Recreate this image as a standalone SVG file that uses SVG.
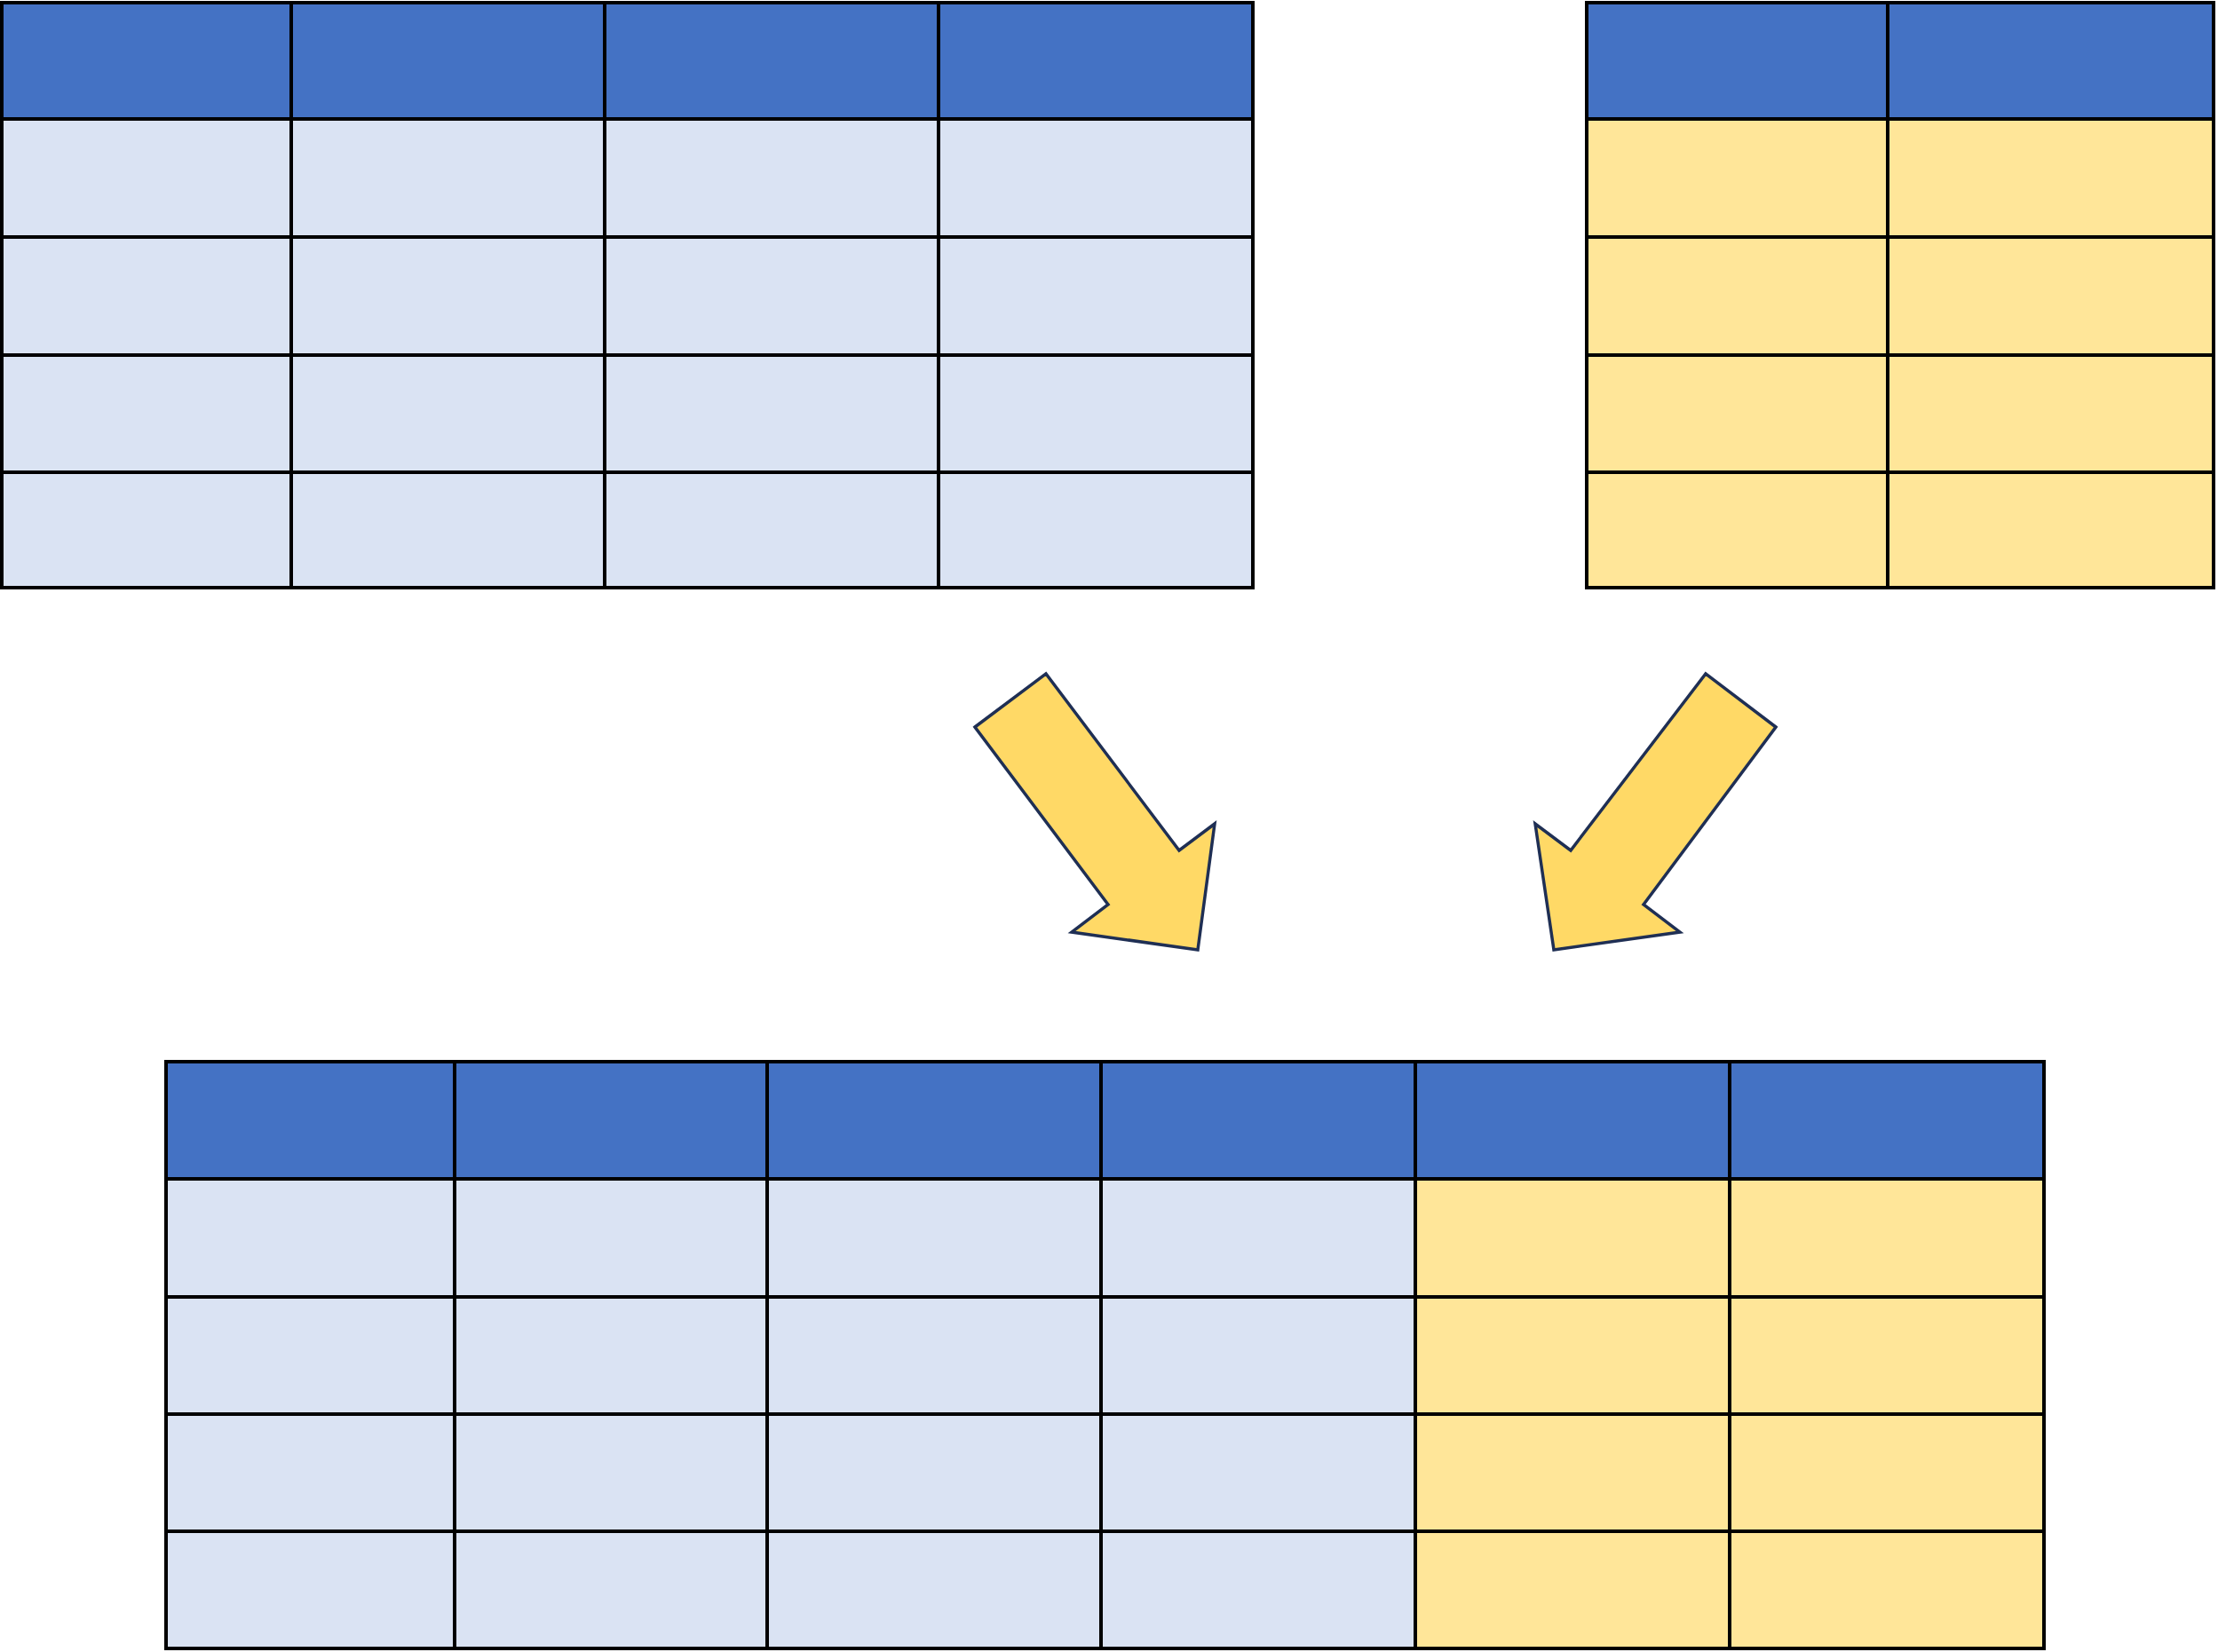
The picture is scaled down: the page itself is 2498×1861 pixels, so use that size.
<svg xmlns="http://www.w3.org/2000/svg" width="2498" height="1861" viewBox="0 0 2498 1861">
<style>
.hdr{fill:#4472C4}
.blue{fill:#DAE3F3}
.yel{fill:#FFE699}
.grid{fill:none;stroke:#000;stroke-width:4}
.arrow{fill:#FFD966;stroke:#1F2F54;stroke-width:3.5;stroke-linejoin:miter}
</style>
<rect width="2498" height="1861" fill="#fff"/>
<g id="table-left">
<rect class="hdr" x="2" y="3" width="1409" height="131"/>
<rect class="blue" x="2" y="134" width="1409" height="528"/>
<path class="grid" d="M2,3H1411V662H2Z M328,3V662 M681,3V662 M1057,3V662 M2,134H1411 M2,267H1411 M2,400H1411 M2,532H1411"/>
</g>
<g id="table-right">
<rect class="hdr" x="1787" y="3" width="706" height="131"/>
<rect class="yel" x="1787" y="134" width="706" height="528"/>
<path class="grid" d="M1787,3H2493V662H1787Z M2126,3V662 M1787,134H2493 M1787,267H2493 M1787,400H2493 M1787,532H2493"/>
</g>
<g id="table-merged">
<rect class="hdr" x="187" y="1196" width="2115" height="132"/>
<rect class="blue" x="187" y="1328" width="1407" height="529"/>
<rect class="yel" x="1594" y="1328" width="708" height="529"/>
<path class="grid" d="M187,1196H2302V1857H187Z M512,1196V1857 M864,1196V1857 M1240,1196V1857 M1594,1196V1857 M1948,1196V1857 M187,1328H2302 M187,1461H2302 M187,1593H2302 M187,1725H2302"/>
</g>
<g id="connectors">
<polygon id="arrow-left" class="arrow" points="1098,819 1178,759 1328,958 1368,928 1349,1070 1207,1050 1248,1019"/>
<polygon id="arrow-right" class="arrow" points="2000,819 1921,759 1769,958 1729,928 1750,1070 1892,1050 1851,1019"/>
</g>
</svg>
